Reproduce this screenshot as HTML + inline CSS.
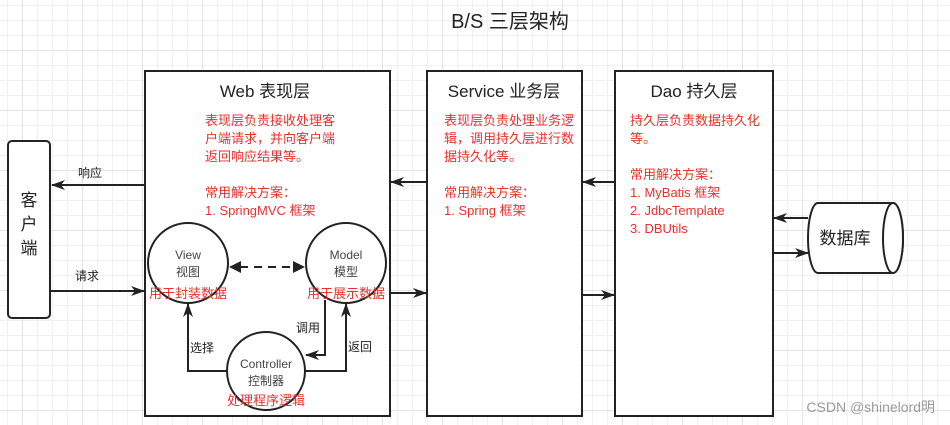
<!DOCTYPE html>
<html><head><meta charset="utf-8"><style>
body{margin:0;width:950px;height:425px;overflow:hidden;background:#fff;
background-image:linear-gradient(#e4e4e4 1px,transparent 1px),linear-gradient(90deg,#e4e4e4 1px,transparent 1px),linear-gradient(#f1f1f1 1px,transparent 1px),linear-gradient(90deg,#f1f1f1 1px,transparent 1px);
background-size:60px 60px,60px 60px,15px 15px,15px 15px;background-position:0 50px,22px 0,0 5px,7px 0;
font-family:"Liberation Sans","Noto Sans CJK SC",sans-serif;}
</style></head><body>
<svg width="950" height="425" xmlns="http://www.w3.org/2000/svg" style="position:absolute;left:0;top:0" font-family="Liberation Sans, Noto Sans CJK SC, sans-serif">
<defs><marker id="a" markerWidth="14" markerHeight="12" refX="13" refY="6" orient="auto" markerUnits="userSpaceOnUse"><path d="M0,1 L14,6 L0,11 L4,6z" fill="#222"/></marker></defs>
<text x="510" y="28" font-size="20" text-anchor="middle" fill="#222">B/S 三层架构</text>
<g fill="#fff" stroke="#222" stroke-width="2">
<rect x="145" y="71" width="245" height="345"/>
<rect x="427" y="71" width="155" height="345"/>
<rect x="615" y="71" width="158" height="345"/>
<rect x="8" y="141" width="42" height="177" rx="4"/>
<path d="M818,203 L893,203 A10,35 0 0 1 893,273 L818,273 A10,35 0 0 1 818,203z"/>
<ellipse cx="893" cy="238" rx="10" ry="35"/>
</g>
<g font-size="17" fill="#222" text-anchor="middle">
<text x="265" y="97">Web 表现层</text>
<text x="504" y="97">Service 业务层</text>
<text x="694" y="97">Dao 持久层</text>
<text x="845" y="244">数据库</text>
<text x="29" y="206">客</text><text x="29" y="230">户</text><text x="29" y="254">端</text>
</g>
<g font-size="13" fill="#e8312f">
<text x="205" y="125">表现层负责接收处理客</text>
<text x="205" y="143">户端请求，并向客户端</text>
<text x="205" y="161">返回响应结果等。</text>
<text x="205" y="197">常用解决方案：</text>
<text x="205" y="215">1. SpringMVC 框架</text>
<text x="444" y="125">表现层负责处理业务逻</text>
<text x="444" y="143">辑，调用持久层进行数</text>
<text x="444" y="161">据持久化等。</text>
<text x="444" y="197">常用解决方案：</text>
<text x="444" y="215">1. Spring 框架</text>
<text x="630" y="125">持久层负责数据持久化</text>
<text x="630" y="143">等。</text>
<text x="630" y="179">常用解决方案：</text>
<text x="630" y="197">1. MyBatis 框架</text>
<text x="630" y="215">2. JdbcTemplate</text>
<text x="630" y="233">3. DBUtils</text>
</g>
<g fill="#fff" stroke="#222" stroke-width="2">
<circle cx="188" cy="263" r="40"/>
<circle cx="346" cy="263" r="40"/>
<circle cx="266" cy="371" r="39"/>
</g>
<g font-size="12" fill="#444" text-anchor="middle">
<text x="188" y="259">View</text><text x="188" y="276">视图</text>
<text x="346" y="259">Model</text><text x="346" y="276">模型</text>
<text x="266" y="368">Controller</text><text x="266" y="385">控制器</text>
</g>
<g font-size="13" fill="#e8312f" text-anchor="middle">
<text x="188" y="298">用于封装数据</text>
<text x="346" y="298">用于展示数据</text>
<text x="266" y="405">处理程序逻辑</text>
</g>
<g font-size="12" fill="#222">
<text x="78" y="177">响应</text><text x="75" y="280">请求</text>
<text x="190" y="352">选择</text><text x="296" y="332">调用</text><text x="348" y="351">返回</text>
</g>
<g stroke="#222" stroke-width="2" fill="none" marker-end="url(#a)">
<line x1="145" y1="185" x2="52" y2="185"/>
<line x1="50" y1="291" x2="144" y2="291"/>
<line x1="427" y1="182" x2="391" y2="182"/>
<line x1="615" y1="182" x2="583" y2="182"/>
<line x1="808" y1="218" x2="774" y2="218"/>
<line x1="774" y1="253" x2="808" y2="253"/>
<line x1="390" y1="293" x2="426" y2="293"/>
<line x1="582" y1="295" x2="614" y2="295"/>
<polyline points="227,371 188,371 188,304"/>
<polyline points="325,300 325,355 306,355"/>
<polyline points="305,371 346,371 346,304"/>
</g>
<line x1="240" y1="267" x2="294" y2="267" stroke="#222" stroke-width="2" stroke-dasharray="8,6"/>
<path d="M229,267 L241,261 L241,273z M305,267 L293,261 L293,273z" fill="#222"/>
<text x="935" y="412" font-size="14" fill="#999" text-anchor="end">CSDN @shinelord明</text>
</svg>
</body></html>
